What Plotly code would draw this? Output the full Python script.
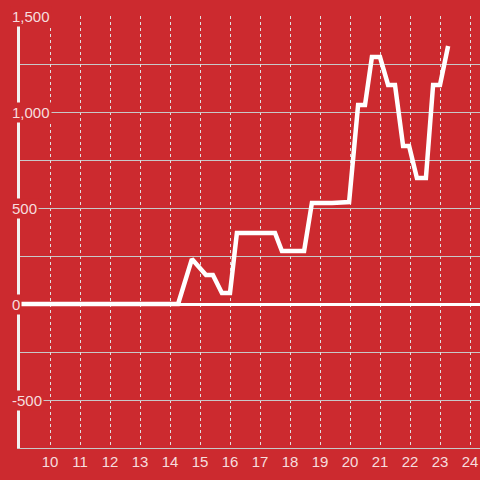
import plotly.graph_objects as go

BG = "#CC2A2F"
LABEL = "rgba(255,255,255,0.85)"
GRID = "#C8C8C8"

# hours of day vs. value
hours = [9.0, 14.27, 14.73, 15.2, 15.43, 15.73, 16.0, 16.23, 17.5, 17.73,
         18.47, 18.73, 19.4, 19.67, 19.97, 20.27, 20.5, 20.73, 21.0, 21.27,
         21.5, 21.77, 21.97, 22.23, 22.53, 22.77, 23.0, 23.27]
values = [0, 0, 234, 151, 151, 57, 57, 370, 370, 276,
          276, 526, 526, 531, 531, 1036, 1036, 1286, 1286, 1141,
          1141, 823, 823, 656, 656, 1141, 1141, 1344]

x_ticks = list(range(10, 25))
y_ticks = [-500, 0, 500, 1000, 1500]
y_labels = ["-500", "0", "500", "1,000", "1,500"]

fig = go.Figure()
fig.add_trace(go.Scatter(
    x=hours, y=values, mode="lines",
    line=dict(color="white", width=4.5),
    hoverinfo="skip",
))

fig.update_layout(
    width=480, height=480,
    margin=dict(l=20, r=0, t=16, b=32),
    paper_bgcolor=BG, plot_bgcolor=BG,
    showlegend=False,
    font=dict(family="Liberation Sans, Arial, sans-serif", size=14, color=LABEL),
)
fig.update_xaxes(
    range=[9, 9 + 460 / 30], automargin=False,
    tickvals=x_ticks, ticks="", ticklen=0,
    showgrid=True, gridcolor="#E0E0E0", griddash="dot", gridwidth=1,
    showline=True, linecolor=GRID, linewidth=1,
    zeroline=False,
    tickfont=dict(size=15, color=LABEL),
)
fig.update_yaxes(
    range=[-750, 1500], automargin=False,
    tickvals=y_ticks, showticklabels=False, ticks="",
    showgrid=True, gridcolor=GRID, gridwidth=1,
    minor=dict(dtick=250, showgrid=True, gridcolor=GRID, gridwidth=1),
    showline=True, linecolor="#F2F2F2", linewidth=3,
    zeroline=True, zerolinecolor="white", zerolinewidth=3,
)

for v, t in zip(y_ticks, y_labels):
    fig.add_annotation(
        x=-10 / 460, xref="paper", xanchor="left",
        y=v, yref="y", yanchor="middle",
        text=t, showarrow=False,
        font=dict(size=15, color=LABEL),
        bgcolor=BG, borderpad=1,
    )

# drop the default body margin so the 480px figure fills the window
fig.write_html(
    "out.html",
    config={"displayModeBar": False},
    post_script="document.body.style.margin='0';",
)
